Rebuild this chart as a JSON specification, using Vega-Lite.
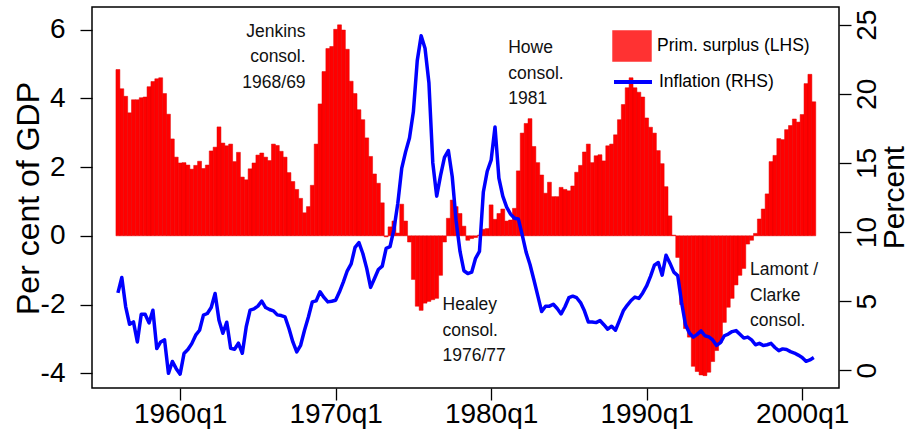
{
  "$schema": "https://vega.github.io/schema/vega-lite/v6.json",
  "width": 747,
  "height": 381,
  "autosize": {"type": "none"},
  "padding": {"left": 92, "top": 7, "right": 75, "bottom": 51},
  "background": "white",
  "config": {
    "font": "Liberation Sans",
    "view": {"stroke": "black", "strokeWidth": 1.5},
    "axis": {"grid": false, "domain": false, "tickColor": "black", "tickWidth": 1.3, "tickSize": 12, "labelColor": "black", "labelFont": "Liberation Sans", "titleFont": "Liberation Sans", "titleColor": "black", "titleFontWeight": "normal", "labelFontSize": 28},
    "legend": {"labelFont": "Liberation Sans", "labelColor": "black", "labelFontSize": 17.5, "padding": 0, "title": null}
  },
  "datasets": {
    "q": [
      {"t":1956.00,"surplus":4.84,"inflation":5.60},{"t":1956.25,"surplus":4.28,"inflation":6.71},{"t":1956.50,"surplus":4.06,"inflation":4.59},{"t":1956.75,"surplus":3.58,"inflation":3.33},
      {"t":1957.00,"surplus":3.96,"inflation":3.50},{"t":1957.25,"surplus":3.96,"inflation":2.05},{"t":1957.50,"surplus":4.02,"inflation":4.06},{"t":1957.75,"surplus":4.04,"inflation":4.05},
      {"t":1958.00,"surplus":4.34,"inflation":3.43},{"t":1958.25,"surplus":4.49,"inflation":4.35},{"t":1958.50,"surplus":4.57,"inflation":1.57},{"t":1958.75,"surplus":4.60,"inflation":2.05},
      {"t":1959.00,"surplus":4.14,"inflation":2.20},{"t":1959.25,"surplus":3.54,"inflation":-0.22},{"t":1959.50,"surplus":2.82,"inflation":0.64},{"t":1959.75,"surplus":2.29,"inflation":0.12},
      {"t":1960.00,"surplus":2.12,"inflation":-0.28},{"t":1960.25,"surplus":2.13,"inflation":1.21},{"t":1960.50,"surplus":2.06,"inflation":1.50},{"t":1960.75,"surplus":1.94,"inflation":1.93},
      {"t":1961.00,"surplus":2.05,"inflation":2.54},{"t":1961.25,"surplus":2.17,"inflation":2.90},{"t":1961.50,"surplus":1.96,"inflation":3.99},{"t":1961.75,"surplus":2.06,"inflation":4.11},
      {"t":1962.00,"surplus":2.47,"inflation":4.54},{"t":1962.25,"surplus":2.58,"inflation":5.56},{"t":1962.50,"surplus":3.17,"inflation":3.62},{"t":1962.75,"surplus":2.70,"inflation":2.68},
      {"t":1963.00,"surplus":2.62,"inflation":3.48},{"t":1963.25,"surplus":2.67,"inflation":1.59},{"t":1963.50,"surplus":2.16,"inflation":1.52},{"t":1963.75,"surplus":2.43,"inflation":1.96},
      {"t":1964.00,"surplus":1.71,"inflation":1.23},{"t":1964.25,"surplus":1.63,"inflation":3.14},{"t":1964.50,"surplus":1.95,"inflation":4.35},{"t":1964.75,"surplus":2.12,"inflation":4.44},
      {"t":1965.00,"surplus":2.35,"inflation":4.64},{"t":1965.25,"surplus":2.41,"inflation":5.00},{"t":1965.50,"surplus":2.29,"inflation":4.54},{"t":1965.75,"surplus":2.19,"inflation":4.40},
      {"t":1966.00,"surplus":2.67,"inflation":4.30},{"t":1966.25,"surplus":2.63,"inflation":4.01},{"t":1966.50,"surplus":2.46,"inflation":3.96},{"t":1966.75,"surplus":2.29,"inflation":3.86},
      {"t":1967.00,"surplus":1.84,"inflation":3.02},{"t":1967.25,"surplus":1.58,"inflation":2.05},{"t":1967.50,"surplus":1.35,"inflation":1.33},{"t":1967.75,"surplus":1.09,"inflation":1.81},
      {"t":1968.00,"surplus":0.67,"inflation":2.90},{"t":1968.25,"surplus":0.85,"inflation":3.86},{"t":1968.50,"surplus":1.47,"inflation":4.95},{"t":1968.75,"surplus":2.67,"inflation":5.02},
      {"t":1969.00,"surplus":3.84,"inflation":5.68},{"t":1969.25,"surplus":4.78,"inflation":5.27},{"t":1969.50,"surplus":5.45,"inflation":4.95},{"t":1969.75,"surplus":5.51,"inflation":5.00},
      {"t":1970.00,"surplus":6.01,"inflation":5.07},{"t":1970.25,"surplus":6.14,"inflation":5.68},{"t":1970.50,"surplus":5.99,"inflation":6.40},{"t":1970.75,"surplus":5.43,"inflation":7.20},
      {"t":1971.00,"surplus":4.50,"inflation":7.70},{"t":1971.25,"surplus":4.14,"inflation":8.89},{"t":1971.50,"surplus":3.67,"inflation":9.23},{"t":1971.75,"surplus":3.38,"inflation":8.45},
      {"t":1972.00,"surplus":2.85,"inflation":7.37},{"t":1972.25,"surplus":2.31,"inflation":6.00},{"t":1972.50,"surplus":1.80,"inflation":6.64},{"t":1972.75,"surplus":1.53,"inflation":7.29},
      {"t":1973.00,"surplus":0.96,"inflation":7.54},{"t":1973.25,"surplus":-0.03,"inflation":8.82},{"t":1973.50,"surplus":0.26,"inflation":8.94},{"t":1973.75,"surplus":0.43,"inflation":10.20},
      {"t":1974.00,"surplus":0.08,"inflation":12.08},{"t":1974.25,"surplus":0.92,"inflation":14.60},{"t":1974.50,"surplus":0.43,"inflation":15.80},{"t":1974.75,"surplus":-0.18,"inflation":16.80},
      {"t":1975.00,"surplus":-1.27,"inflation":18.70},{"t":1975.25,"surplus":-2.05,"inflation":22.40},{"t":1975.50,"surplus":-2.17,"inflation":24.20},{"t":1975.75,"surplus":-1.96,"inflation":23.30},
      {"t":1976.00,"surplus":-1.91,"inflation":20.80},{"t":1976.25,"surplus":-1.86,"inflation":15.00},{"t":1976.50,"surplus":-1.82,"inflation":12.60},{"t":1976.75,"surplus":-1.15,"inflation":14.10},
      {"t":1977.00,"surplus":-0.18,"inflation":15.40},{"t":1977.25,"surplus":0.51,"inflation":15.90},{"t":1977.50,"surplus":1.04,"inflation":14.00},{"t":1977.75,"surplus":0.85,"inflation":10.80},
      {"t":1978.00,"surplus":0.65,"inflation":8.60},{"t":1978.25,"surplus":0.28,"inflation":7.20},{"t":1978.50,"surplus":-0.13,"inflation":7.00},{"t":1978.75,"surplus":-0.08,"inflation":7.10},
      {"t":1979.00,"surplus":-0.05,"inflation":8.10},{"t":1979.25,"surplus":0.02,"inflation":8.60},{"t":1979.50,"surplus":0.19,"inflation":12.90},{"t":1979.75,"surplus":0.21,"inflation":14.40},
      {"t":1980.00,"surplus":0.90,"inflation":15.20},{"t":1980.25,"surplus":0.48,"inflation":17.60},{"t":1980.50,"surplus":0.65,"inflation":13.90},{"t":1980.75,"surplus":0.78,"inflation":12.60},
      {"t":1981.00,"surplus":0.43,"inflation":11.80},{"t":1981.25,"surplus":0.46,"inflation":11.30},{"t":1981.50,"surplus":0.80,"inflation":11.00},{"t":1981.75,"surplus":1.89,"inflation":10.95},
      {"t":1982.00,"surplus":2.99,"inflation":9.80},{"t":1982.25,"surplus":3.27,"inflation":8.55},{"t":1982.50,"surplus":3.41,"inflation":7.65},{"t":1982.75,"surplus":2.60,"inflation":6.55},
      {"t":1983.00,"surplus":2.13,"inflation":5.40},{"t":1983.25,"surplus":1.77,"inflation":4.25},{"t":1983.50,"surplus":1.24,"inflation":4.64},{"t":1983.75,"surplus":1.56,"inflation":4.64},
      {"t":1984.00,"surplus":1.14,"inflation":4.78},{"t":1984.25,"surplus":1.14,"inflation":4.47},{"t":1984.50,"surplus":1.41,"inflation":4.08},{"t":1984.75,"surplus":1.35,"inflation":4.60},
      {"t":1985.00,"surplus":1.31,"inflation":5.25},{"t":1985.25,"surplus":1.45,"inflation":5.36},{"t":1985.50,"surplus":1.85,"inflation":5.25},{"t":1985.75,"surplus":2.05,"inflation":4.90},
      {"t":1986.00,"surplus":2.44,"inflation":4.30},{"t":1986.25,"surplus":2.67,"inflation":3.50},{"t":1986.50,"surplus":2.13,"inflation":3.50},{"t":1986.75,"surplus":2.33,"inflation":3.45},
      {"t":1987.00,"surplus":2.36,"inflation":3.60},{"t":1987.25,"surplus":2.18,"inflation":3.30},{"t":1987.50,"surplus":2.62,"inflation":2.97},{"t":1987.75,"surplus":2.67,"inflation":3.19},
      {"t":1988.00,"surplus":2.94,"inflation":2.90},{"t":1988.25,"surplus":3.38,"inflation":3.60},{"t":1988.50,"surplus":3.82,"inflation":4.30},{"t":1988.75,"surplus":4.31,"inflation":4.70},
      {"t":1989.00,"surplus":4.60,"inflation":5.05},{"t":1989.25,"surplus":4.31,"inflation":5.30},{"t":1989.50,"surplus":4.18,"inflation":5.20},{"t":1989.75,"surplus":4.04,"inflation":5.60},
      {"t":1990.00,"surplus":3.43,"inflation":6.10},{"t":1990.25,"surplus":3.16,"inflation":6.80},{"t":1990.50,"surplus":2.99,"inflation":7.60},{"t":1990.75,"surplus":2.48,"inflation":7.80},
      {"t":1991.00,"surplus":2.10,"inflation":6.88},{"t":1991.25,"surplus":1.43,"inflation":8.33},{"t":1991.50,"surplus":0.58,"inflation":7.75},{"t":1991.75,"surplus":0.02,"inflation":7.10},
      {"t":1992.00,"surplus":-0.63,"inflation":6.85},{"t":1992.25,"surplus":-2.00,"inflation":4.90},{"t":1992.50,"surplus":-2.70,"inflation":3.30},{"t":1992.75,"surplus":-2.95,"inflation":2.70},
      {"t":1993.00,"surplus":-3.80,"inflation":2.40},{"t":1993.25,"surplus":-3.95,"inflation":2.60},{"t":1993.50,"surplus":-4.05,"inflation":2.85},{"t":1993.75,"surplus":-4.07,"inflation":2.50},
      {"t":1994.00,"surplus":-3.97,"inflation":2.42},{"t":1994.25,"surplus":-3.66,"inflation":2.20},{"t":1994.50,"surplus":-3.34,"inflation":1.80},{"t":1994.75,"surplus":-3.10,"inflation":2.00},
      {"t":1995.00,"surplus":-2.52,"inflation":2.50},{"t":1995.25,"surplus":-2.08,"inflation":2.62},{"t":1995.50,"surplus":-1.82,"inflation":2.80},{"t":1995.75,"surplus":-1.43,"inflation":2.87},
      {"t":1996.00,"surplus":-1.15,"inflation":2.60},{"t":1996.25,"surplus":-0.95,"inflation":2.33},{"t":1996.50,"surplus":-0.24,"inflation":2.40},{"t":1996.75,"surplus":-0.13,"inflation":2.20},
      {"t":1997.00,"surplus":0.07,"inflation":1.85},{"t":1997.25,"surplus":0.49,"inflation":1.95},{"t":1997.50,"surplus":0.78,"inflation":1.80},{"t":1997.75,"surplus":1.22,"inflation":1.85},
      {"t":1998.00,"surplus":2.16,"inflation":1.95},{"t":1998.25,"surplus":2.34,"inflation":1.65},{"t":1998.50,"surplus":2.83,"inflation":1.42},{"t":1998.75,"surplus":2.80,"inflation":1.55},
      {"t":1999.00,"surplus":3.09,"inflation":1.50},{"t":1999.25,"surplus":3.21,"inflation":1.35},{"t":1999.50,"surplus":3.40,"inflation":1.25},{"t":1999.75,"surplus":3.31,"inflation":1.10},
      {"t":2000.00,"surplus":3.53,"inflation":0.93},{"t":2000.25,"surplus":4.43,"inflation":0.65},{"t":2000.50,"surplus":4.70,"inflation":0.75},{"t":2000.75,"surplus":3.90,"inflation":0.92}
    ],
    "notesRight": [
      {"label": "Jenkins\nconsol.\n1968/69", "t": 1968.07, "v": 5.94}
    ],
    "notesLeft": [
      {"label": "Howe\nconsol.\n1981", "t": 1981.10, "v": 5.46},
      {"label": "Healey\nconsol.\n1976/77", "t": 1976.875, "v": -2.02},
      {"label": "Lamont /\nClarke\nconsol.", "t": 1996.65, "v": -1.0}
    ]
  },
  "layer": [
    {
      "layer": [
        {
          "data": {"name": "q"},
          "mark": {"type": "bar", "width": 3.94, "stroke": "#e00000", "strokeWidth": 0.5},
          "encoding": {
            "x": {"field": "t", "type": "quantitative", "title": null,
                  "scale": {"domain": [1954.655, 2002.05], "nice": false, "zero": false},
                  "axis": {"values": [1960, 1970, 1980, 1990, 2000], "labelExpr": "datum.value + 'q1'", "labelPadding": 0, "labelFlush": false, "labelOverlap": false}},
            "y": {"field": "surplus", "type": "quantitative", "title": "Per cent of GDP",
                  "scale": {"domain": [-4.43, 6.66], "nice": false},
                  "axis": {"orient": "left", "values": [-4, -2, 0, 2, 4, 6], "labelExpr": "'' + datum.value", "labelPadding": 15, "titleFontSize": 32, "titleAngle": 270, "titleBaseline": "alphabetic", "titleX": -54, "titleY": 191}},
            "fill": {"datum": "Prim. surplus (LHS)", "scale": {"range": ["#ff0000"]},
                     "legend": {"orient": "none", "legendX": 523, "legendY": 22, "symbolType": "M-1.2,-0.95H1.2V0.95H-1.2Z", "symbolSize": 1000, "labelOffset": 8, "symbolStrokeColor": "#ff0000", "symbolStrokeWidth": 1.5, "symbolOpacity": 0.8}}
          }
        },
        {
          "data": {"name": "notesRight"},
          "mark": {"type": "text", "align": "right", "baseline": "middle", "lineBreak": "\n", "lineHeight": 25.5, "fontSize": 17.5, "font": "Liberation Sans", "color": "#111111"},
          "encoding": {
            "x": {"field": "t", "type": "quantitative", "title": null},
            "y": {"field": "v", "type": "quantitative", "title": "Per cent of GDP"},
            "text": {"field": "label"}
          }
        },
        {
          "data": {"name": "notesLeft"},
          "mark": {"type": "text", "align": "left", "baseline": "middle", "lineBreak": "\n", "lineHeight": 25.5, "fontSize": 17.5, "font": "Liberation Sans", "color": "#111111"},
          "encoding": {
            "x": {"field": "t", "type": "quantitative", "title": null},
            "y": {"field": "v", "type": "quantitative", "title": "Per cent of GDP"},
            "text": {"field": "label"}
          }
        }
      ]
    },
    {
      "data": {"name": "q"},
      "mark": {"type": "line", "strokeWidth": 3.5, "strokeJoin": "round", "interpolate": "linear"},
      "encoding": {
        "x": {"field": "t", "type": "quantitative", "title": null},
        "y": {"field": "inflation", "type": "quantitative", "title": "Percent",
              "scale": {"domain": [-1.28, 26.28], "nice": false, "zero": false},
              "axis": {"orient": "right", "values": [0, 5, 10, 15, 20, 25], "labelAngle": 270, "labelPadding": 2, "titleFontSize": 30, "titleAngle": 270, "titleBaseline": "alphabetic", "titleX": 64, "titleY": 190}},
        "stroke": {"datum": "Inflation (RHS)", "scale": {"range": ["#0000ff"]},
                   "legend": {"orient": "none", "legendX": 520, "legendY": 54, "symbolType": "stroke", "symbolSize": 1444, "symbolStrokeWidth": 4, "labelOffset": 5}}
      }
    }
  ],
  "resolve": {"scale": {"y": "independent"}}
}
